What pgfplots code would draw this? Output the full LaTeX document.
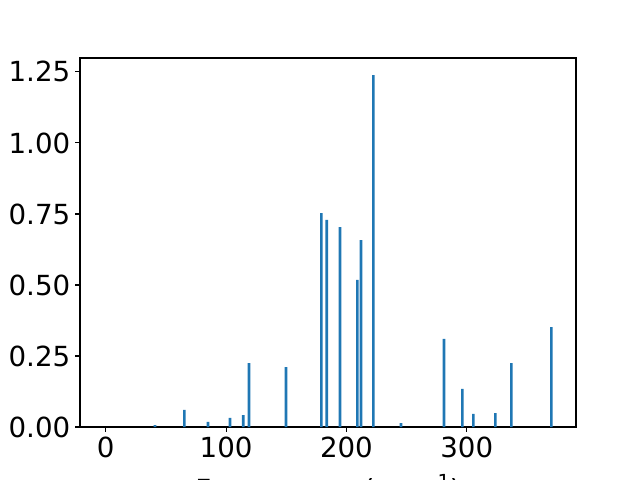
\documentclass[border=0pt]{standalone}
\usepackage{fontspec}
\setmainfont{DejaVu Sans}
\usepackage{pgfplots}
\pgfplotsset{compat=1.18}
\definecolor{mplblue}{HTML}{1F77B4}

\begin{document}
\begin{tikzpicture}
\useasboundingbox (0,0) rectangle (6.4in,4.8in);
\clip (0,0) rectangle (6.4in,4.8in);
\begin{axis}[
    at={(0.80in,0.53in)}, anchor=south west,
    width=4.96in, height=3.69in, scale only axis,
    xmin=-21.4, xmax=390.8,
    ymin=0, ymax=1.299,
    xtick={0,100,200,300},
    ytick={0,0.25,0.5,0.75,1.0,1.25},
    yticklabel style={/pgf/number format/.cd, fixed, fixed zerofill, precision=2},
    /pgf/number format/assume math mode=true,
    tick align=outside, xtick pos=bottom, ytick pos=left,
    major tick length=0.0486in,
    tick style={black, line width=0.8pt},
    axis line style={line width=0.8pt},
    font=\fontsize{20}{24}\selectfont,
    xlabel={Frequency\hspace{12pt} (cm\,\raisebox{7.9pt}{\fontsize{14}{16}\selectfont −1})},
    xlabel style={at={(axis description cs:0.5,0)}, anchor=base, yshift=-0.72in},
]
\addplot[ybar, bar width=2.2, fill=mplblue, draw=none] coordinates {
  (40.9,0.007) (65.3,0.060) (85.0,0.018) (103.2,0.032) (114.3,0.042)
  (119.0,0.225) (149.8,0.211) (179.2,0.753) (183.6,0.729) (194.7,0.704)
  (209.1,0.518) (212.1,0.658) (222.4,1.239) (245.4,0.014) (281.1,0.310)
  (296.4,0.134) (305.5,0.046) (323.8,0.049) (337.1,0.225) (370.3,0.352)
};
\end{axis}
\end{tikzpicture}
\end{document}
